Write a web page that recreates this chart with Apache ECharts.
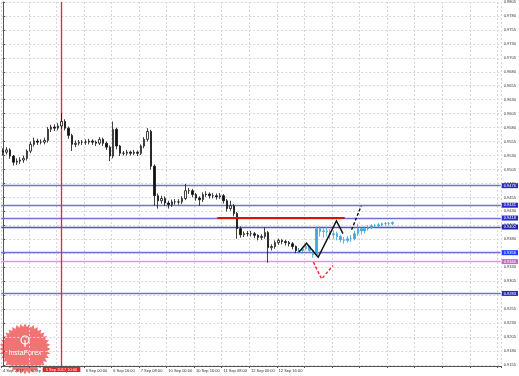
<!DOCTYPE html>
<html><head><meta charset="utf-8">
<script src="https://cdn.jsdelivr.net/npm/echarts@6/dist/echarts.min.js"></script>
<style>html,body{margin:0;padding:0;background:#fff}#c{width:519px;height:376px}</style>
</head><body><div id="c"></div>
<script>
// ---- DATA ----
const barCount = 145; // 2-hour bars across the time axis
const xTickLabels = ['4 Sep 2017','4 Sep 16:00','5 Sep 08:00','6 Sep 00:00','6 Sep 16:00','7 Sep 08:00','10 Sep 00:00','10 Sep 16:00','11 Sep 08:00','12 Sep 00:00','12 Sep 16:00'];
const yTicks = [0.9155,0.9180,0.9205,0.9230,0.9255,0.9280,0.9305,0.9330,0.9355,0.9380,0.9405,0.9430,0.9455,0.9480,0.9505,0.9530,0.9555,0.9580,0.9605,0.9630,0.9655,0.9680,0.9705,0.9730,0.9755,0.9780,0.9805];
// [open, close, low, high]
const priceBars = [
[0.9538,0.9536,0.9530,0.9543],[0.9536,0.9540,0.9532,0.9545],[0.9540,0.9529,0.9524,0.9543],[0.9529,0.9518,0.9512,0.9531],
[0.9518,0.9520,0.9513,0.9525],[0.9520,0.9522,0.9515,0.9527],[0.9522,0.9525,0.9517,0.9530],[0.9525,0.9538,0.9521,0.9541],
[0.9538,0.9550,0.9534,0.9555],[0.9550,0.9556,0.9546,0.9562],[0.9556,0.9554,0.9549,0.9560],[0.9554,0.9554,0.9550,0.9559],
[0.9554,0.9557,0.9550,0.9562],[0.9557,0.9577,0.9553,0.9581],[0.9577,0.9581,0.9572,0.9585],[0.9581,0.9579,0.9574,0.9586],
[0.9579,0.9583,0.9575,0.9588],[0.9583,0.9591,0.9578,0.9606],[0.9591,0.9579,0.9575,0.9595],[0.9579,0.9566,0.9560,0.9582],
[0.9566,0.9550,0.9538,0.9569],[0.9550,0.9552,0.9545,0.9557],[0.9552,0.9554,0.9548,0.9558],[0.9554,0.9554,0.9549,0.9558],
[0.9554,0.9554,0.9549,0.9559],[0.9554,0.9556,0.9550,0.9560],[0.9556,0.9554,0.9549,0.9559],[0.9554,0.9552,0.9547,0.9557],
[0.9552,0.9559,0.9549,0.9563],[0.9559,0.9552,0.9547,0.9562],[0.9552,0.9545,0.9540,0.9555],[0.9545,0.9529,0.9520,0.9548],
[0.9529,0.9577,0.9525,0.9591],[0.9577,0.9547,0.9541,0.9580],[0.9547,0.9534,0.9529,0.9549],[0.9534,0.9534,0.9530,0.9538],
[0.9534,0.9536,0.9530,0.9540],[0.9536,0.9534,0.9530,0.9539],[0.9534,0.9536,0.9531,0.9540],[0.9536,0.9534,0.9529,0.9539],
[0.9534,0.9547,0.9531,0.9550],[0.9547,0.9559,0.9543,0.9563],[0.9559,0.9573,0.9555,0.9579],[0.9573,0.9511,0.9505,0.9576],
[0.9511,0.9458,0.9440,0.9514],[0.9458,0.9449,0.9435,0.9462],[0.9449,0.9453,0.9444,0.9458],[0.9453,0.9445,0.9440,0.9457],
[0.9445,0.9442,0.9435,0.9449],[0.9442,0.9447,0.9438,0.9451],[0.9447,0.9447,0.9442,0.9452],[0.9447,0.9447,0.9442,0.9452],
[0.9447,0.9453,0.9443,0.9457],[0.9453,0.9467,0.9450,0.9479],[0.9467,0.9467,0.9461,0.9472],[0.9467,0.9460,0.9455,0.9470],
[0.9460,0.9454,0.9449,0.9463],[0.9454,0.9451,0.9440,0.9457],[0.9451,0.9460,0.9447,0.9464],[0.9460,0.9461,0.9456,0.9466],
[0.9461,0.9458,0.9453,0.9464],[0.9458,0.9458,0.9453,0.9463],[0.9458,0.9456,0.9451,0.9462],[0.9456,0.9458,0.9452,0.9463],
[0.9458,0.9449,0.9444,0.9461],[0.9449,0.9435,0.9430,0.9452],[0.9435,0.9440,0.9431,0.9449],[0.9440,0.9426,0.9421,0.9443],
[0.9426,0.9399,0.9381,0.9429],[0.9399,0.9388,0.9383,0.9403],[0.9388,0.9390,0.9384,0.9394],[0.9390,0.9390,0.9385,0.9395],
[0.9390,0.9390,0.9385,0.9395],[0.9390,0.9387,0.9382,0.9393],[0.9387,0.9383,0.9378,0.9389],[0.9383,0.9385,0.9379,0.9389],
[0.9385,0.9392,0.9381,0.9401],[0.9392,0.9365,0.9338,0.9395],[0.9365,0.9367,0.9360,0.9371],[0.9367,0.9374,0.9363,0.9378],
[0.9374,0.9378,0.9370,0.9381],[0.9378,0.9376,0.9371,0.9380],[0.9376,0.9374,0.9369,0.9379],[0.9374,0.9372,0.9367,0.9377],
[0.9372,0.9367,0.9362,0.9375],[0.9367,0.9360,0.9355,0.9369],[0.9360,0.9360,0.9356,0.9364]
];
const laterStart = 86;
const laterBars = [
[0.9358,0.9360,0.9355,0.9363],[0.9360,0.9363,0.9357,0.9367],[0.9363,0.9367,0.9360,0.9371],[0.9367,0.9360,0.9356,0.9369],
[0.9360,0.9352,0.9347,0.9362],[0.9352,0.9399,0.9350,0.9403],[0.9399,0.9394,0.9385,0.9403],[0.9394,0.9395,0.9383,0.9401],
[0.9395,0.9394,0.9385,0.9402],[0.9394,0.9388,0.9380,0.9398],[0.9388,0.9390,0.9381,0.9396],[0.9390,0.9385,0.9378,0.9394],
[0.9385,0.9379,0.9374,0.9388],[0.9379,0.9378,0.9372,0.9384],[0.9378,0.9381,0.9374,0.9386],[0.9381,0.9381,0.9375,0.9388],
[0.9381,0.9390,0.9378,0.9395],[0.9390,0.9399,0.9386,0.9408],[0.9399,0.9395,0.9388,0.9401],[0.9395,0.9399,0.9390,0.9403],
[0.9399,0.9401,0.9395,0.9405],[0.9401,0.9404,0.9398,0.9407],[0.9404,0.9404,0.9400,0.9408],[0.9404,0.9406,0.9401,0.9409],
[0.9406,0.9408,0.9403,0.9410],[0.9408,0.9408,0.9404,0.9411],[0.9408,0.9408,0.9404,0.9411],[0.9408,0.9410,0.9405,0.9412]
];
// forecast paths: bar index, price
const zigX = [85.9, 88.1, 91.5, 96.8, 98.7];
const zigY = [0.9357, 0.9373, 0.9348, 0.9413, 0.9390];
const dashUpX = [101.2, 104.0];
const dashUpY = [0.9397, 0.9440];
const redDashX = [90.1, 92.5, 95.8];
const redDashY = [0.9339, 0.9309, 0.9333];
const redLevelX = [62.2, 99.2];
const redLevel = 0.9419;
const levelValues = [0.9476, 0.9441, 0.9418, 0.9402, 0.9356, 0.9340, 0.9283];
const levelColors = ['#7070dc','#7070dc','#7070dc','#5050c8','#7070dc','#dc9adc','#7070dc'];
const levelLabelBg = ['#2a2ac8','#2a2ac8','#2a2ac8','#2020a8','#1e3cff','#cc66cc','#2a2ac8'];
const bidPrice = 0.9363;
const markerBar = 17;
const markerLabel = '5 Sep 2017 10:00';
const yMin = 0.9153, yMax = 0.9805;

// ---- BUILD ----
const categories = Array.from({length: barCount}, (_, i) => String(i));
const laterData = Array(laterStart).fill('-').concat(laterBars);
const pairs = (xs, ys) => xs.map((x, i) => [x, ys[i]]);
const font = 'Liberation Sans';
const fs = 4;
const xL = -0.5, xR = barCount - 0.5;
const tagLabel = (text, bg, pos) => ({show: true, position: pos || 'end', distance: 1, formatter: text, color: '#fff', backgroundColor: bg, fontSize: fs, fontFamily: font, padding: [1, 2, 0, 2]});

const levelLines = levelValues.map((v, i) => ({
  yAxis: v,
  lineStyle: {color: levelColors[i], width: 1.3, type: 'solid', opacity: 1},
  label: tagLabel(v.toFixed(4), levelLabelBg[i])
}));
levelLines.push({
  yAxis: bidPrice,
  lineStyle: {opacity: 0},
  label: tagLabel(bidPrice.toFixed(4), '#333')
});

const starPts = [];
for (let k = 0; k < 72; k++) {
  const r = k % 2 ? 22 : 25.5;
  const a = k * Math.PI / 36;
  starPts.push([25 + r * Math.cos(a), 349 + r * Math.sin(a)]);
}

const linesBase = {type: 'lines', coordinateSystem: 'cartesian2d', xAxisIndex: 1, yAxisIndex: 0, polyline: true, silent: true};

const chart = echarts.init(document.getElementById('c'), null, {renderer: 'canvas'});
chart.setOption({
  animation: false,
  backgroundColor: '#ffffff',
  grid: {left: 0, right: 17, top: 0, bottom: 10, containLabel: false},
  graphic: [
    {type: 'polygon', z: -1, shape: {points: starPts}, style: {fill: 'rgba(238,92,92,0.85)'}},
    {type: 'circle', z: -1, shape: {cx: 25, cy: 340, r: 4}, style: {fill: 'none', stroke: '#fff', lineWidth: 1.2}},
    {type: 'line', z: -1, shape: {x1: 25, y1: 340, x2: 25, y2: 347}, style: {stroke: '#fff', lineWidth: 1.2}},
    {type: 'text', z: -1, style: {text: 'InstaForex', x: 25, y: 353, align: 'center', verticalAlign: 'middle', fill: '#fff', font: '7px "Liberation Sans"'}}
  ],
  xAxis: [{
    type: 'category', data: categories, boundaryGap: true,
    axisLine: {lineStyle: {color: '#555', width: 1}},
    axisTick: {show: true, interval: 7, length: 2, lineStyle: {color: '#555'}},
    axisLabel: {interval: 7, margin: 3, align: 'left', fontSize: fs, fontFamily: font, color: '#333',
      formatter: (v, idx) => xTickLabels[idx / 8] || ''},
    splitLine: {show: true, interval: 7, lineStyle: {color: '#d6d6d6', type: [2, 2], width: 1}}
  }, {
    type: 'value', min: xL, max: xR, show: false
  }],
  yAxis: {
    type: 'value', position: 'right', min: yMin, max: yMax, scale: true,
    axisLine: {show: true, lineStyle: {color: '#555'}},
    axisTick: {show: true, length: 2, customValues: yTicks, lineStyle: {color: '#555'}},
    axisLabel: {customValues: yTicks, margin: 3, fontSize: fs, fontFamily: font, color: '#333', formatter: v => v.toFixed(4)},
    splitLine: {show: true, lineStyle: {color: '#d6d6d6', type: [2, 2], width: 1}}
  },
  series: [
    {
      type: 'candlestick', name: 'price', data: priceBars, barWidth: 2, z: 3,
      itemStyle: {color: '#ffffff', color0: '#111', borderColor: '#111', borderColor0: '#111', borderWidth: 0.8},
      markLine: {
        symbol: 'none', silent: true, animation: false, precision: 4, z: 1,
        data: levelLines
      }
    },
    {
      type: 'candlestick', name: 'later', data: laterData, barWidth: 2, z: 3,
      itemStyle: {color: '#3aa9dc', color0: '#3aa9dc', borderColor: '#3aa9dc', borderColor0: '#3aa9dc', borderWidth: 0.8},
      markLine: {
        symbol: 'none', silent: true, animation: false, precision: 4, z: 1,
        lineStyle: {color: '#ff2020', width: 1.3, type: 'solid'},
        data: [{
          xAxis: String(markerBar),
          lineStyle: {color: '#ff2020', width: 1.3, type: 'solid', opacity: 1},
          label: Object.assign(tagLabel(markerLabel, '#e82020', 'start'), {padding: [1, 3, 0, 3]})
        }]
      }
    },
    Object.assign({}, linesBase, {
      polyline: false, symbol: ['none', 'none'], z: 4,
      lineStyle: {color: '#e01010', width: 2, opacity: 1},
      data: [{coords: pairs(redLevelX, [redLevel, redLevel])}]
    }),
    Object.assign({}, linesBase, {
      symbol: ['none', 'arrow'], symbolSize: 5, z: 4,
      lineStyle: {color: '#111', width: 1.4, opacity: 1},
      data: [{coords: pairs(zigX, zigY)}]
    }),
    Object.assign({}, linesBase, {
      symbol: ['none', 'arrow'], symbolSize: 5, z: 4,
      lineStyle: {color: '#111', width: 1.4, type: [3, 2], opacity: 1},
      data: [{coords: pairs(dashUpX, dashUpY)}]
    }),
    Object.assign({}, linesBase, {
      symbol: ['none', 'arrow'], symbolSize: 5, z: 4,
      lineStyle: {color: '#ee2a2a', width: 1.4, type: [3, 2], opacity: 1},
      data: [{coords: pairs(redDashX, redDashY)}]
    })
  ]
});
</script>
</body></html>
